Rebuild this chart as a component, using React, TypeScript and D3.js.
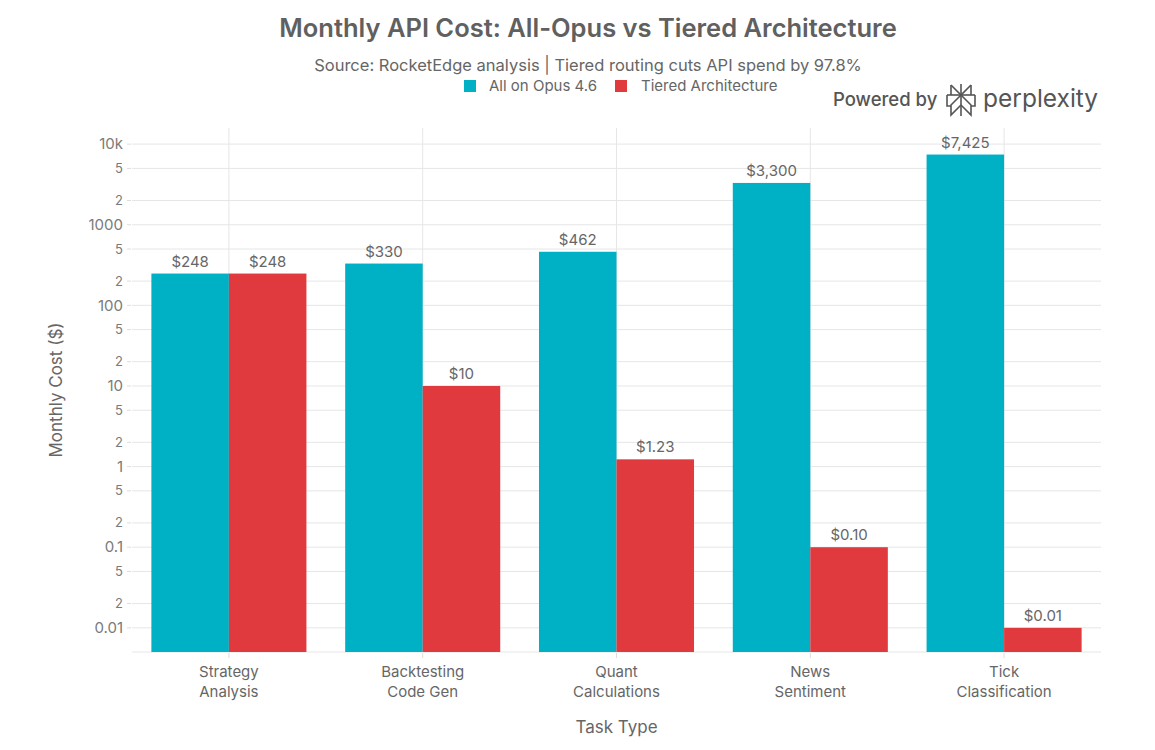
import React from 'react';
import * as d3 from 'd3';

const categories = ['Strategy\nAnalysis', 'Backtesting\nCode Gen', 'Quant\nCalculations', 'News\nSentiment', 'Tick\nClassification'];
const seriesNames = ['All on Opus 4.6', 'Tiered Architecture'];
const opusCost = [248, 330, 462, 3300, 7425];
const tieredCost = [248, 10, 1.23, 0.1, 0.01];
const opusLabels = ['$248', '$330', '$462', '$3,300', '$7,425'];
const tieredLabels = ['$248', '$10', '$1.23', '$0.10', '$0.01'];
const colors = ['#00B0C5', '#E03A3F'];

const font = 'Inter, "Noto Sans", sans-serif';

const W = 1155, H = 750;
const margin = { left: 132, right: 54, top: 128, bottom: 98 };

const App: React.FC = () => {
  const innerW = W - margin.left - margin.right;
  const innerH = H - margin.top - margin.bottom;

  const x = d3.scaleBand<string>().domain(categories).range([0, innerW]).paddingInner(0.2).paddingOuter(0.1);
  const sub = d3.scaleBand<number>().domain([0, 1]).range([0, x.bandwidth()]);
  const y = d3.scaleLog().domain([Math.pow(10, -2.3), Math.pow(10, 4.2)]).range([innerH, 0]);

  // log ticks: 1, 2, 5 per decade
  const ticks: number[] = [];
  for (let e = -3; e <= 4; e++) {
    [1, 2, 5].forEach(m => {
      const v = m * Math.pow(10, e);
      if (v >= y.domain()[0] && v <= y.domain()[1]) ticks.push(v);
    });
  }
  const tickLabel = (v: number) => {
    const m = Math.round(v / Math.pow(10, Math.floor(Math.log10(v) + 1e-9)));
    if (m !== 1) return String(m);
    if (v >= 10000) return `${v / 1000}k`;
    return d3.format('~g')(v);
  };

  const series = [opusCost, tieredCost];
  const labels = [opusLabels, tieredLabels];

  const bandCenter = (c: string) => (x(c) ?? 0) + x.bandwidth() / 2;

  return (
    <svg width={W} height={H} style={{ position: 'absolute', left: 0, top: 0, background: '#fff' }} fontFamily={font}>
      <text x={588} y={37} textAnchor="middle" fontSize={25.5} fontWeight={600} fill="#606060">
        Monthly API Cost: All-Opus vs Tiered Architecture
      </text>
      <text x={588} y={71} textAnchor="middle" fontSize={16.5} fill="#666">
        Source: RocketEdge analysis | Tiered routing cuts API spend by 97.8%
      </text>

      {/* legend */}
      <g fontSize={15} fill="#666">
        <rect x={464} y={80} width={12} height={12} fill={colors[0]} />
        <text x={489} y={91}>{seriesNames[0]}</text>
        <rect x={615} y={80} width={12} height={12} fill={colors[1]} />
        <text x={641} y={91}>{seriesNames[1]}</text>
      </g>

      {/* powered by */}
      <g>
        <text x={833} y={106} fontSize={18.5} fontWeight={500} fill="#555">Powered by</text>
        <g fill="none" stroke="#555" strokeWidth={1.6} strokeLinejoin="miter">
          <path d="M961,84 L961,116" />
          <path d="M951,85 L961,95 L971,85" />
          <path d="M951,85 L951,95 M971,85 L971,95" />
          <path d="M947,95 L975,95" />
          <path d="M947,95 L947,106 L951,106 M975,95 L975,106 L971,106" />
          <path d="M961,95 L951,105 L951,115 L961,105 M961,95 L971,105 L971,115 L961,105" />
        </g>
        <text x={983} y={107} fontSize={24.5} fontWeight={400} fill="#555">perplexity</text>
      </g>

      <g transform={`translate(${margin.left},${margin.top})`}>
        {/* horizontal grid */}
        {ticks.map(t => (
          <g key={t} transform={`translate(0,${y(t)})`}>
            <line x1={0} x2={innerW} stroke="#e6e6e6" strokeWidth={1} />
            <line x1={-5} x2={-1} stroke="#ddd" strokeWidth={1} />
            <text x={-9} dy="0.35em" textAnchor="end" fontSize={Math.abs(Math.log10(t) % 1) < 1e-6 ? 15 : 13} fill="#7a7a7a">
              {tickLabel(t)}
            </text>
          </g>
        ))}
        {/* vertical grid at category centers */}
        {categories.map(c => (
          <g key={c}>
            <line x1={bandCenter(c)} x2={bandCenter(c)} y1={0} y2={innerH} stroke="#e6e6e6" />
            <line x1={bandCenter(c)} x2={bandCenter(c)} y1={innerH + 1} y2={innerH + 6} stroke="#ddd" />
          </g>
        ))}
        <line x1={0} x2={innerW} y1={innerH} y2={innerH} stroke="#e6e6e6" />

        {/* bars */}
        {series.map((vals, si) =>
          vals.map((v, i) => {
            const c = categories[i];
            const bx = (x(c) ?? 0) + (sub(si) ?? 0);
            return (
              <g key={`${si}-${i}`}>
                <rect x={bx} y={y(v)} width={sub.bandwidth()} height={innerH - y(v)} fill={colors[si]} />
                <text x={bx + sub.bandwidth() / 2} y={y(v) - 7} textAnchor="middle" fontSize={15} fill="#666">
                  {labels[si][i]}
                </text>
              </g>
            );
          })
        )}

        {/* category labels */}
        {categories.map(c => (
          <text key={c} x={bandCenter(c)} y={innerH + 25} textAnchor="middle" fontSize={15} fill="#666">
            {c.split('\n').map((line, li) => (
              <tspan key={li} x={bandCenter(c)} dy={li === 0 ? 0 : 20}>{line}</tspan>
            ))}
          </text>
        ))}

        <text x={innerW / 2} y={innerH + 81} textAnchor="middle" fontSize={17} fill="#666">Task Type</text>
        <text transform={`translate(${-70},${innerH / 2}) rotate(-90)`} textAnchor="middle" fontSize={17} fill="#666">
          Monthly Cost ($)
        </text>
      </g>
    </svg>
  );
};

export default App;
